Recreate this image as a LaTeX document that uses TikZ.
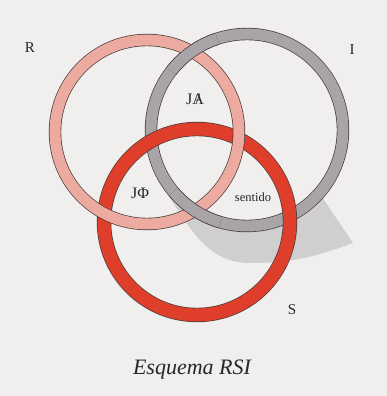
\documentclass[tikz,border=0pt]{standalone}
\usepackage{fontspec}
\setmainfont{Liberation Serif}
\usepackage{tikz}
\usetikzlibrary{positioning}
\definecolor{paper}{RGB}{241,239,237}
\definecolor{edgecol}{RGB}{70,60,60}
\definecolor{pinkring}{RGB}{236,170,160}
\definecolor{grayring}{RGB}{168,164,168}
\definecolor{redring}{RGB}{222,62,42}
\definecolor{shadecol}{RGB}{208,206,206}
\tikzstyle{ring}=[draw=edgecol,line width=0.7pt,double distance=11pt]
\tikzstyle{ringR}=[ring,double=pinkring]
\tikzstyle{ringI}=[ring,double=grayring]
\tikzstyle{ringS}=[ring,double=redring,double distance=13pt]
\tikzstyle{letter}=[font=\fontsize{15}{18}\selectfont,text=black!85]
\tikzstyle{inner}=[font=\fontsize{16}{19}\selectfont,text=black!85]

\begin{document}
\begin{tikzpicture}[x=1pt,y=1pt]
      \fill[paper] (0,0) rectangle (387,396);
      \useasboundingbox (0,0) rectangle (387,396);
      \coordinate (cR) at (147,264);
      \coordinate (cI) at (247,266);
      \coordinate (cS) at (197,174);

      % shadow under the I ring
      \coordinate (sh0) at ([shift={(214:102)}]cI);
      \coordinate (sh1) at (353,153);
      \coordinate (sh2) at (250,133);
      \fill[shadecol] (sh0) arc[start angle=214,end angle=318,radius=102]
        -- (sh1) to[out=200,in=0] (sh2) to[out=180,in=-55] (sh0);

      % rings: I under S, S under R, R under I
      \draw[ringI] (cI) circle[radius=96];
      \draw[ringS] (cS) circle[radius=93];
      \draw[ringR] (cR) circle[radius=92];
      \draw[ringI] ([shift={(108:96)}]cI) arc[start angle=108,end angle=142,radius=96];
      \draw[ringI] ([shift={(220:96)}]cI) arc[start angle=220,end angle=254,radius=96];

      \node[letter] (lR) at (30,348) {R};
      \node[letter] (lI) at (352,346) {I};
      \node[letter] (lS) at (292,86) {S};
      \node[inner] (jA) at (195,297) {J\ooalign{A\cr\hidewidth/\hidewidth\cr}};
      \node[inner] (jPhi) at (140,203) {JΦ};
      \node[font=\fontsize{12.5}{15}\selectfont,text=black!85] (sens) at (253,199) {sentido};
      \node[font=\fontsize{22}{26}\selectfont\itshape,text=black!85] (title) at (192,26) {Esquema RSI};
    \end{tikzpicture}
\end{document}
